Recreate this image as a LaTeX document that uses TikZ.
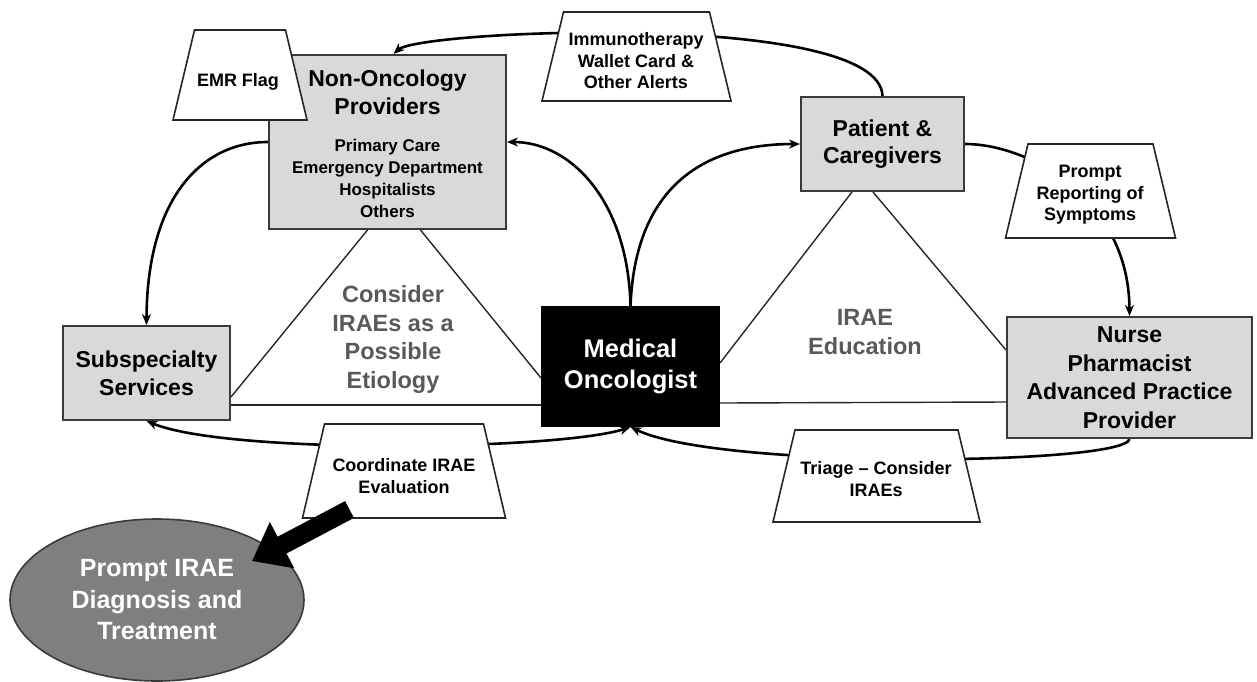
\documentclass[tikz,border=0pt]{standalone}
\usepackage{fontspec}
\setmainfont{Liberation Sans}
\usetikzlibrary{shapes.geometric,arrows.meta,calc,backgrounds}
\definecolor{boxgray}{HTML}{D9D9D9}
\definecolor{edgegray}{HTML}{3A3A3A}
\definecolor{ovalgray}{HTML}{7F7F7F}
\definecolor{labelgray}{HTML}{595959}
% trapezoid tag: centre, top half-width, bottom half-width, half-height
\newcommand\tagframe[4]{%
  \filldraw[tagline] ($(#1)+(-#2,-#4)$) -- ($(#1)+(#2,-#4)$) --
    ($(#1)+(#3,#4)$) -- ($(#1)+(-#3,#4)$) -- cycle;}
\begin{document}
\begin{tikzpicture}[x=1pt,y=-1pt,
  box/.style={draw=edgegray,line width=2pt,fill=boxgray,inner sep=0pt,align=center,
    font=\bfseries\fontsize{23}{28}\selectfont},
  tagline/.style={draw=black!85,line width=1.6pt,fill=white,line join=miter},
  tagtext/.style={align=center,inner sep=0pt,font=\bfseries\fontsize{18}{21.5}\selectfont},
  link/.style={line width=2.6pt,-{Stealth[length=11pt,width=9pt]}},
  twoway/.style={line width=2.6pt,{Stealth[length=11pt,width=9pt]}-{Stealth[length=11pt,width=9pt]}},
  thin/.style={line width=1.4pt,draw=black!85},
  theme/.style={text=labelgray,align=center,inner sep=0pt,font=\bfseries\fontsize{23.5}{28.5}\selectfont}
]
\useasboundingbox (0,0) rectangle (1257,681);

% care-team boxes
\node[box,minimum width=237pt,minimum height=174pt] (non) at (387.5,142) {};
\node[align=center,inner sep=0pt,font=\bfseries\fontsize{23}{28}\selectfont] (nonT) at (387.5,92) {Non-Oncology\\Providers};
\node[align=center,inner sep=0pt,font=\bfseries\fontsize{17}{22}\selectfont] (nonL) at (387.5,178) {Primary Care\\Emergency Department\\Hospitalists\\Others};
\node[box,minimum width=163pt,minimum height=94pt,font=\bfseries\fontsize{23}{27}\selectfont] (pat) at (882.5,144) {Patient \&\\Caregivers};
\node[box,minimum width=245pt,minimum height=121pt,font=\bfseries\fontsize{23}{28.5}\selectfont] (nur) at (1129.5,377.5) {Nurse\\Pharmacist\\Advanced Practice\\Provider};
\node[box,fill=black,draw=black,text=white,minimum width=177pt,minimum height=119pt,
  font=\bfseries\fontsize{25.5}{31}\selectfont] (mo) at (630.5,366.5) {Medical\\Oncologist};
\node[box,minimum width=167pt,minimum height=94pt] (sub) at (146.5,373) {Subspecialty\\Services};

% outcome
\node[ellipse,draw=edgegray,line width=1.6pt,fill=ovalgray,text=white,inner sep=0pt,
  minimum width=294pt,minimum height=162pt,align=center,
  font=\bfseries\fontsize{25}{31.5}\selectfont] (ell) at (157,600) {Prompt IRAE\\Diagnosis and\\Treatment};

% themes inside the two triangles
\node[theme] (why) at (393,339.5) {Consider\\IRAEs as a\\Possible\\Etiology};
\node[theme,font=\bfseries\fontsize{23.5}{29}\selectfont] (edu) at (865,332.5) {IRAE\\Education};

% trapezoid tags
\coordinate (emrC) at (240,75);
\coordinate (immC) at (636.5,56.5);
\coordinate (proC) at (1090.5,191);
\coordinate (cooC) at (404,471);
\coordinate (triC) at (876.5,476);
\tagframe{emrC}{45.5}{67}{45}
\tagframe{immC}{73}{94.5}{44.5}
\tagframe{proC}{62.5}{85}{47}
\tagframe{cooC}{79.5}{101.5}{47}
\tagframe{triC}{81.5}{103.5}{46}
\node[tagtext] (emr) at (238,82) {EMR Flag};
\node[tagtext] (imm) at (636,61) {Immunotherapy\\Wallet Card \&\\Other Alerts};
\node[tagtext] (pro) at (1090,195) {Prompt\\Reporting of\\Symptoms};
\node[tagtext] (coo) at (404,476) {Coordinate IRAE\\Evaluation};
\node[tagtext] (tri) at (876,479) {Triage -- Consider\\IRAEs};

% bold arrow to the outcome
\coordinate (bolt) at (349.5,509.5);
\coordinate (hit) at (252,561);
\draw[line width=19pt,-{Triangle[length=34pt,width=50pt]}] (bolt) -- (hit);

\begin{pgfonlayer}{background}
  % triangle sides
  \draw[thin] ($(non.south)+(-20,0)$) -- ($(sub.east)+(0,24)$);
  \draw[thin] ($(non.south)+(33,0)$) -- ($(mo.west)+(0,11.5)$);
  \draw[thin] ($(sub.east)+(0,32)$) -- ($(mo.west)+(0,38.5)$);
  \draw[thin] ($(pat.south)+(-30.5,0)$) -- ($(mo.east)+(0,-3.5)$);
  \draw[thin] ($(pat.south)+(-9.5,0)$) -- ($(nur.west)+(0,-27.5)$);
  \draw[thin] ($(mo.east)+(0,36.5)$) -- ($(nur.west)+(0,24.5)$);
  % communication loops
  \draw[link] (mo.north) .. controls (628,200) and (570,142) .. (non.east);
  \draw[link] (mo.north) .. controls (635,190) and (700,144) .. (pat.west);
  \draw[link] (pat.north) .. controls (880,10) and (420,30) .. ($(non.north)+(6,0)$);
  \draw[link] (non.west) .. controls (200,142) and (147,200) .. (sub.north);
  \draw[link] (pat.east) .. controls (1030,144) and (1129,200) .. (nur.north);
  \draw[link] (nur.south) .. controls (1125,465) and (720,470) .. (mo.south);
  \draw[twoway] (sub.south) .. controls (230,455) and (560,450) .. (mo.south);
\end{pgfonlayer}
\end{tikzpicture}
\end{document}
